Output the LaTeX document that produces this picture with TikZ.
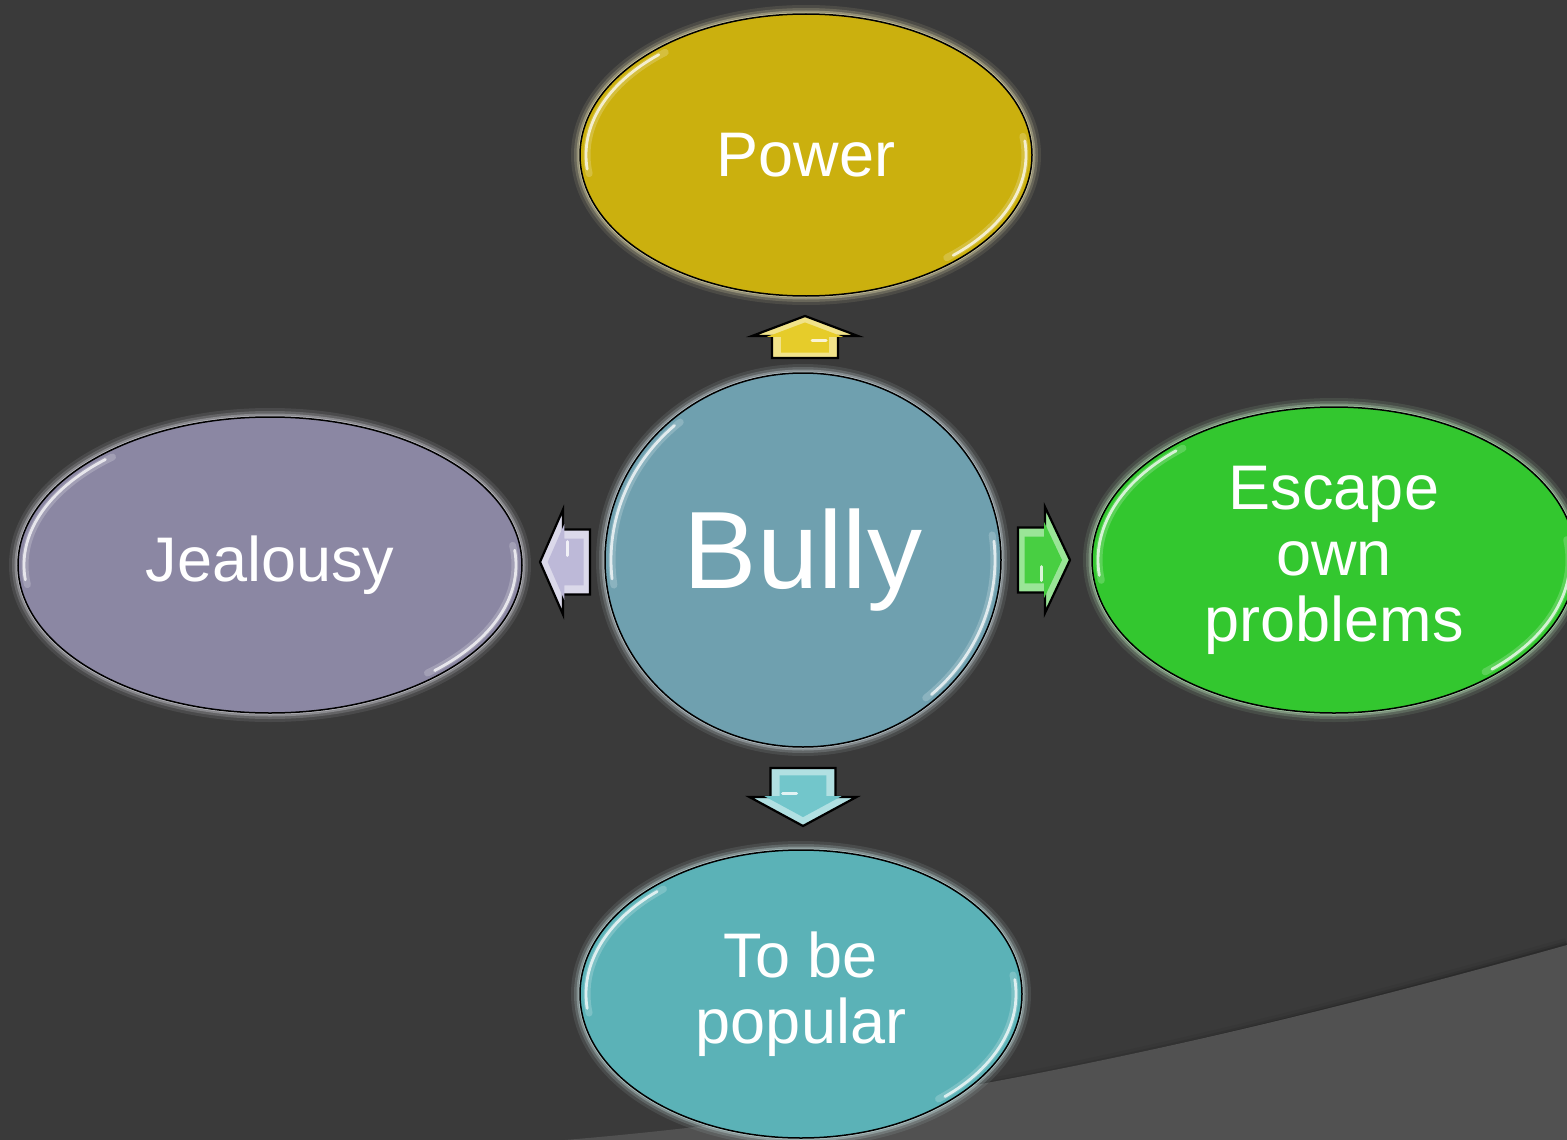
\documentclass[tikz,border=0pt]{standalone}
\usepackage{fontspec}
\setmainfont{Liberation Sans}
\usetikzlibrary{calc,shapes.geometric}
\definecolor{bg}{HTML}{3A3A3A}
\definecolor{bglight}{HTML}{515151}
\definecolor{powerc}{HTML}{CBB00E}
\definecolor{bullyc}{HTML}{6FA0AF}
\definecolor{jealc}{HTML}{8B87A3}
\definecolor{escc}{HTML}{33C72F}
\definecolor{popc}{HTML}{5BB2B7}
\definecolor{upc}{HTML}{E6CC2A}
\definecolor{leftc}{HTML}{BDB9D8}
\definecolor{rightc}{HTML}{48CF42}
\definecolor{downc}{HTML}{72C6CB}
\tikzset{
  bubble/.style={ellipse, draw=black, line width=1.5pt, text=white, align=center,
    inner sep=0pt, font=\fontsize{63}{66}\selectfont},
  hl/.style={white, line width=2.8pt, line cap=round, opacity=0.75},
  hlsoft/.style={white, line width=7pt, line cap=round, opacity=0.2},
  arrowline/.style={draw=black, line width=2.2pt, line join=miter},
}
% name, x, y, rx, ry, color, text
\newcommand{\mybubble}[7]{%
  \foreach \w/\o in {18/0.10,12/0.18,7/0.32,3/0.6}{
    \draw[line width=\w pt, draw=#6!30!white, opacity=\o] (#2,#3) ellipse ({#4} and {#5});
  }
  \node[bubble, fill=#6, minimum width={2*#4pt}, minimum height={2*#5pt}] (#1) at (#2,#3) {#7};
  \draw[hlsoft] ($(#2,#3)+(172:{#4-7} and {#5-7})$) arc[start angle=172, end angle=230, x radius={#4-7}, y radius={#5-7}];
  \draw[hl] ($(#2,#3)+(174:{#4-6} and {#5-6})$) arc[start angle=174, end angle=228, x radius={#4-6}, y radius={#5-6}];
  \draw[hlsoft] ($(#2,#3)+(-8:{#4-7} and {#5-7})$) arc[start angle=-8, end angle=50, x radius={#4-7}, y radius={#5-7}];
  \draw[hl] ($(#2,#3)+(-6:{#4-6} and {#5-6})$) arc[start angle=-6, end angle=48, x radius={#4-6}, y radius={#5-6}];
}
% name, x, y, rotation, length, headlength, shaftwidth, headwidth, color
\newcommand{\blockarrow}[9]{%
  \coordinate (#1) at (#2,#3);
  \begin{scope}[shift={(#1)}, rotate=#4]
    \draw[arrowline, fill=#9!55!white] (0,-#7/2) -- (#5-#6,-#7/2) -- (#5-#6,-#8/2) -- (#5,0)
      -- (#5-#6,#8/2) -- (#5-#6,#7/2) -- (0,#7/2) -- cycle;
    \begin{scope}[shift={(#5*0.45,0)}, scale=0.72, shift={(-#5*0.45,0)}]
      \fill[#9] (0,-#7/2) -- (#5-#6,-#7/2) -- (#5-#6,-#8/2) -- (#5,0)
        -- (#5-#6,#8/2) -- (#5-#6,#7/2) -- (0,#7/2) -- cycle;
    \end{scope}
    \draw[white, line width=3pt, opacity=0.8, line cap=round] (#5-#6-4,#7/2-12) -- (#5-#6-4,#7/2-26);
  \end{scope}
}
\begin{document}
\begin{tikzpicture}[x=1pt, y=-1pt]
  \useasboundingbox (0,0) rectangle (1567,1140);
  \clip (0,0) rectangle (1567,1140);
  \fill[bg] (0,0) rectangle (1567,1140);
  % lighter lower-right band
  \foreach \w/\o in {14/0.05,8/0.08,4/0.12}{
    \draw[black, opacity=\o, line width=\w pt] (700,1128) .. controls (950,1103) and (1230,1040) .. (1567,945);
  }
  \fill[bglight] (565,1140) .. controls (900,1112) and (1217,1043) .. (1567,945) -- (1567,1140) -- cycle;

  \mybubble{power}{806}{155}{226}{141}{powerc}{Power}
  \mybubble{jealousy}{270}{565}{252}{148}{jealc}{Jealousy}
  \mybubble{escape}{1334}{560}{242}{153}{escc}{Escape\\own\\problems}
  \mybubble{popular}{801}{994}{221}{144}{popc}{To be\\popular}
  \mybubble{bully}{803}{560}{198}{187}{bullyc}{}
  \node[text=white, font=\fontsize{110}{110}\selectfont] (bullytext) at (bully.center) {Bully};

  \blockarrow{uparrow}{805}{358}{90}{42}{20}{66}{106}{upc}
  \blockarrow{leftarrow}{590}{562}{180}{50}{23}{65}{105}{leftc}
  \blockarrow{rightarrow}{1018}{560}{0}{52}{25}{65}{106}{rightc}
  \blockarrow{downarrow}{803}{768}{-90}{58}{29}{65}{107}{downc}
\end{tikzpicture}
\end{document}
